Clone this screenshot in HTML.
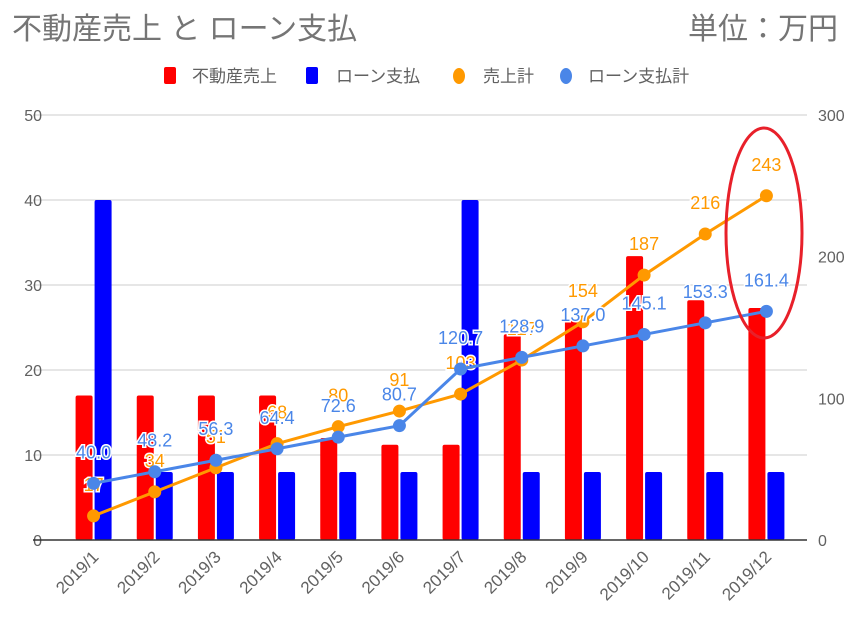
<!DOCTYPE html>
<html><head><meta charset="utf-8"><style>
body{margin:0;background:#fff;font-family:"Liberation Sans","Noto Sans CJK JP",sans-serif;}
svg text{font-family:"Liberation Sans","Noto Sans CJK JP",sans-serif;}
</style></head><body>
<svg id="chart" width="867" height="620" xmlns="http://www.w3.org/2000/svg">
<text x="12" y="39" font-size="30" fill="#757575">不動産売上 と ローン支払</text>
<text x="838" y="39" font-size="30" fill="#757575" text-anchor="end">単位：万円</text>
<g font-size="17" fill="#616161">
<rect x="164" y="67" width="12" height="17" rx="2" fill="#ff0000"/>
<text x="192" y="82">不動産売上</text>
<rect x="306" y="67" width="12" height="17" rx="2" fill="#0000ff"/>
<text x="336" y="82">ローン支払</text>
<ellipse cx="459" cy="76" rx="6" ry="8" fill="#ff9900"/>
<text x="483" y="82">売上計</text>
<ellipse cx="566" cy="76" rx="6" ry="8" fill="#4a86e8"/>
<text x="588" y="82">ローン支払計</text>
</g>
<g id="plot"></g>
<ellipse cx="764" cy="233" rx="38" ry="105" fill="none" stroke="#e8202a" stroke-width="3"/>
</svg>
<script>
const categories=["2019/1","2019/2","2019/3","2019/4","2019/5","2019/6","2019/7","2019/8","2019/9","2019/10","2019/11","2019/12"];
const salesValues=[17,17,17,17,12,11.2,11.2,24.2,25.8,33.4,28.2,27.3];
const loanValues=[40,8,8,8,8,8,40,8,8,8,8,8];
const salesTotal=[17,34,51,68,80,91,103,127,154,187,216,243];
const loanTotal=[40.0,48.2,56.3,64.4,72.6,80.7,120.7,128.9,137.0,145.1,153.3,161.4];
const leftTicks=[0,10,20,30,40,50];
const rightTicks=[0,100,200,300];

const NS="http://www.w3.org/2000/svg";
const g=document.getElementById('plot');
const X0=63,X1=797,Y0=540,Y1=115;
const step=(X1-X0)/categories.length;
const cx=i=>X0+(i+0.5)*step;
const yL=v=>Y0-(v/50)*(Y0-Y1);
const yR=v=>Y0-(v/300)*(Y0-Y1);
function mk(tag,attrs,txt){const e=document.createElementNS(NS,tag);for(const k in attrs)e.setAttribute(k,attrs[k]);if(txt!==undefined)e.textContent=txt;g.appendChild(e);return e;}

leftTicks.forEach(t=>{
 if(t>0){const l=mk('line',{x1:X0-30,x2:X1+10,y1:yL(t),y2:yL(t),stroke:'#cccccc','stroke-width':1});
 
 }
 const tx=mk('text',{x:42,y:yL(t)+6,'font-size':16,fill:'#616161','text-anchor':'end'},t);
 
 
});
rightTicks.forEach(t=>{
 const tx=mk('text',{x:818,y:yR(t)+6,'font-size':16,fill:'#616161'},t);
 
 
});
categories.forEach((c,i)=>{
 const r=mk('rect',{x:cx(i)-18,y:yL(salesValues[i]),width:17,height:Y0-yL(salesValues[i]),fill:'#ff0000',rx:2});
 
 
 const b=mk('rect',{x:cx(i)+1,y:yL(loanValues[i]),width:17,height:Y0-yL(loanValues[i]),fill:'#0000ff',rx:2});
 
 
 const tx=mk('text',{x:0,y:0,'font-size':17,fill:'#616161','text-anchor':'end',transform:`translate(${cx(i)+6},${Y0+18}) rotate(-45)`},c);
 
 
});
const base=mk('line',{x1:X0-30,x2:X1+10,y1:Y0,y2:Y0,stroke:'#333','stroke-width':1.5});



function series(vals,color,name,fmt){
 const pts=vals.map((v,i)=>cx(i)+','+yR(v)).join(' ');
 const pl=mk('polyline',{points:pts,fill:'none',stroke:color,'stroke-width':3});
 
 
 vals.forEach((v,i)=>{
  const c=mk('circle',{cx:cx(i),cy:yR(v),r:6.5,fill:color});
  
  
 });
 vals.forEach((v,i)=>{
  const t=mk('text',{x:cx(i),y:yR(v)-25,'font-size':18,fill:color,'text-anchor':'middle',stroke:'#fff','stroke-width':3,'paint-order':'stroke'},fmt(v));
  
  
 });
}
series(salesTotal,'#ff9900','sales-total',v=>String(v));
series(loanTotal,'#4a86e8','loan-total',v=>v.toFixed(1));
</script>
</body></html>
